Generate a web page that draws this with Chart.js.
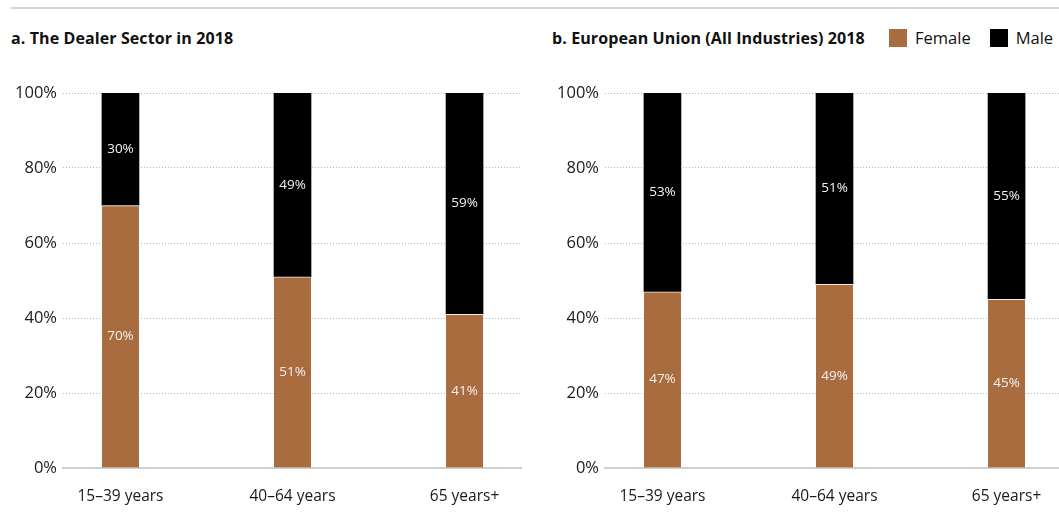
<!DOCTYPE html>
<html>
<head>
<meta charset="utf-8">
<script src="https://cdn.jsdelivr.net/npm/chart.js@4.4.1/dist/chart.umd.min.js"></script>
<style>
    html, body { margin: 0; padding: 0; background: #fff; }
    body { width: 1059px; height: 531px; position: relative; overflow: hidden; font-family: "Open Sans", sans-serif; color: #111; }
    .topline { position: absolute; left: 11px; right: 0; top: 7px; height: 2px; background: #d6d6d6; }
    .title { position: absolute; top: 27px; font-size: 16px; font-weight: 700; line-height: 22px; white-space: nowrap; letter-spacing: 0.1px; }
    .legend { position: absolute; top: 27px; left: 889px; font-size: 16.5px; line-height: 22px; white-space: nowrap; display: flex; align-items: center; }
    .legend .sw { display: inline-block; width: 18px; height: 18px; margin-right: 8px; }
    .legend .item { display: flex; align-items: center; margin-right: 19px; }
    .box { position: absolute; top: 66px; width: 522px; height: 465px; }
</style>
</head>
<body>
<div class="topline"></div>
<div class="title" style="left:11px">a. The Dealer Sector in 2018</div>
<div class="title" style="left:552px">b. European Union (All Industries) 2018</div>
<div class="legend">
    <span class="item"><span class="sw" style="background:#a96c3f"></span>Female</span>
    <span class="item"><span class="sw" style="background:#000"></span>Male</span>
</div>
<div class="box" style="left:0"><canvas id="chart-dealer"></canvas></div>
<div class="box" style="left:542px"><canvas id="chart-eu"></canvas></div>

<script>
const ageGroups = ['15–39 years', '40–64 years', '65 years+'];
const dealerFemale = [70, 51, 41];
const dealerMale = [30, 49, 59];
const euFemale = [47, 49, 45];
const euMale = [53, 51, 55];
const yTicks = [0, 20, 40, 60, 80, 100];

const FEMALE_COLOR = '#a96c3f';
const MALE_COLOR = '#000000';

// draws the % value in the middle of each bar segment
const segmentLabels = {
    id: 'segmentLabels',
    afterDatasetsDraw(chart) {
        const ctx = chart.ctx;
        ctx.save();
        ctx.font = '13.5px "Open Sans", sans-serif';
        ctx.fillStyle = '#f2f2f2';
        ctx.textAlign = 'center';
        ctx.textBaseline = 'middle';
        chart.data.datasets.forEach((ds, i) => {
            chart.getDatasetMeta(i).data.forEach((bar, j) => {
                const p = bar.getProps(['x', 'y', 'base'], true);
                ctx.fillText(ds.data[j].y + '%', p.x, (p.y + p.base) / 2);
            });
        });
        ctx.restore();
    }
};

function makeChart(id, female, male) {
    return new Chart(document.getElementById(id), {
        type: 'bar',
        data: {
            datasets: [
                {
                    label: 'Female',
                    data: female.map((v, i) => ({ x: i, y: v })),
                    backgroundColor: FEMALE_COLOR,
                    borderColor: '#f4ece6',
                    borderWidth: { top: 1, left: 0, right: 0, bottom: 0 },
                    borderSkipped: false,
                    barThickness: 37
                },
                {
                    label: 'Male',
                    data: male.map((v, i) => ({ x: i, y: v })),
                    backgroundColor: MALE_COLOR,
                    borderWidth: 0,
                    barThickness: 37
                }
            ]
        },
        options: {
            responsive: true,
            maintainAspectRatio: false,
            animation: false,
            layout: { padding: { top: 27, right: 0, bottom: 0, left: 0 } },
            plugins: { legend: { display: false }, tooltip: { enabled: false } },
            scales: {
                x: {
                    type: 'linear',
                    stacked: true,
                    offset: false,
                    min: -0.334,
                    max: 2.334,
                    afterBuildTicks: s => { s.ticks = ageGroups.map((_, i) => ({ value: i })); },
                    afterFit: s => { s.height = 63; },
                    grid: { display: false, drawTicks: false },
                    border: { display: true, color: '#cfcfcf', width: 2 },
                    ticks: {
                        padding: 19,
                        color: '#1a1a1a',
                        font: { family: '"Open Sans", sans-serif', size: 15.5 },
                        callback: v => ageGroups[v],
                        maxRotation: 0,
                        autoSkip: false
                    }
                },
                y: {
                    stacked: true,
                    min: 0,
                    max: 100,
                    afterBuildTicks: s => { s.ticks = yTicks.map(v => ({ value: v })); },
                    afterFit: s => { s.width = 63; },
                    grid: { color: '#b8b8b8', lineWidth: 1, drawTicks: false },
                    border: { display: false, dash: [1, 2] },
                    ticks: {
                        padding: 6,
                        color: '#1a1a1a',
                        font: { family: '"Open Sans", sans-serif', size: 16.5 },
                        callback: v => v + '%'
                    }
                }
            }
        },
        plugins: [segmentLabels]
    });
}

makeChart('chart-dealer', dealerFemale, dealerMale);
makeChart('chart-eu', euFemale, euMale);
</script>
</body>
</html>
